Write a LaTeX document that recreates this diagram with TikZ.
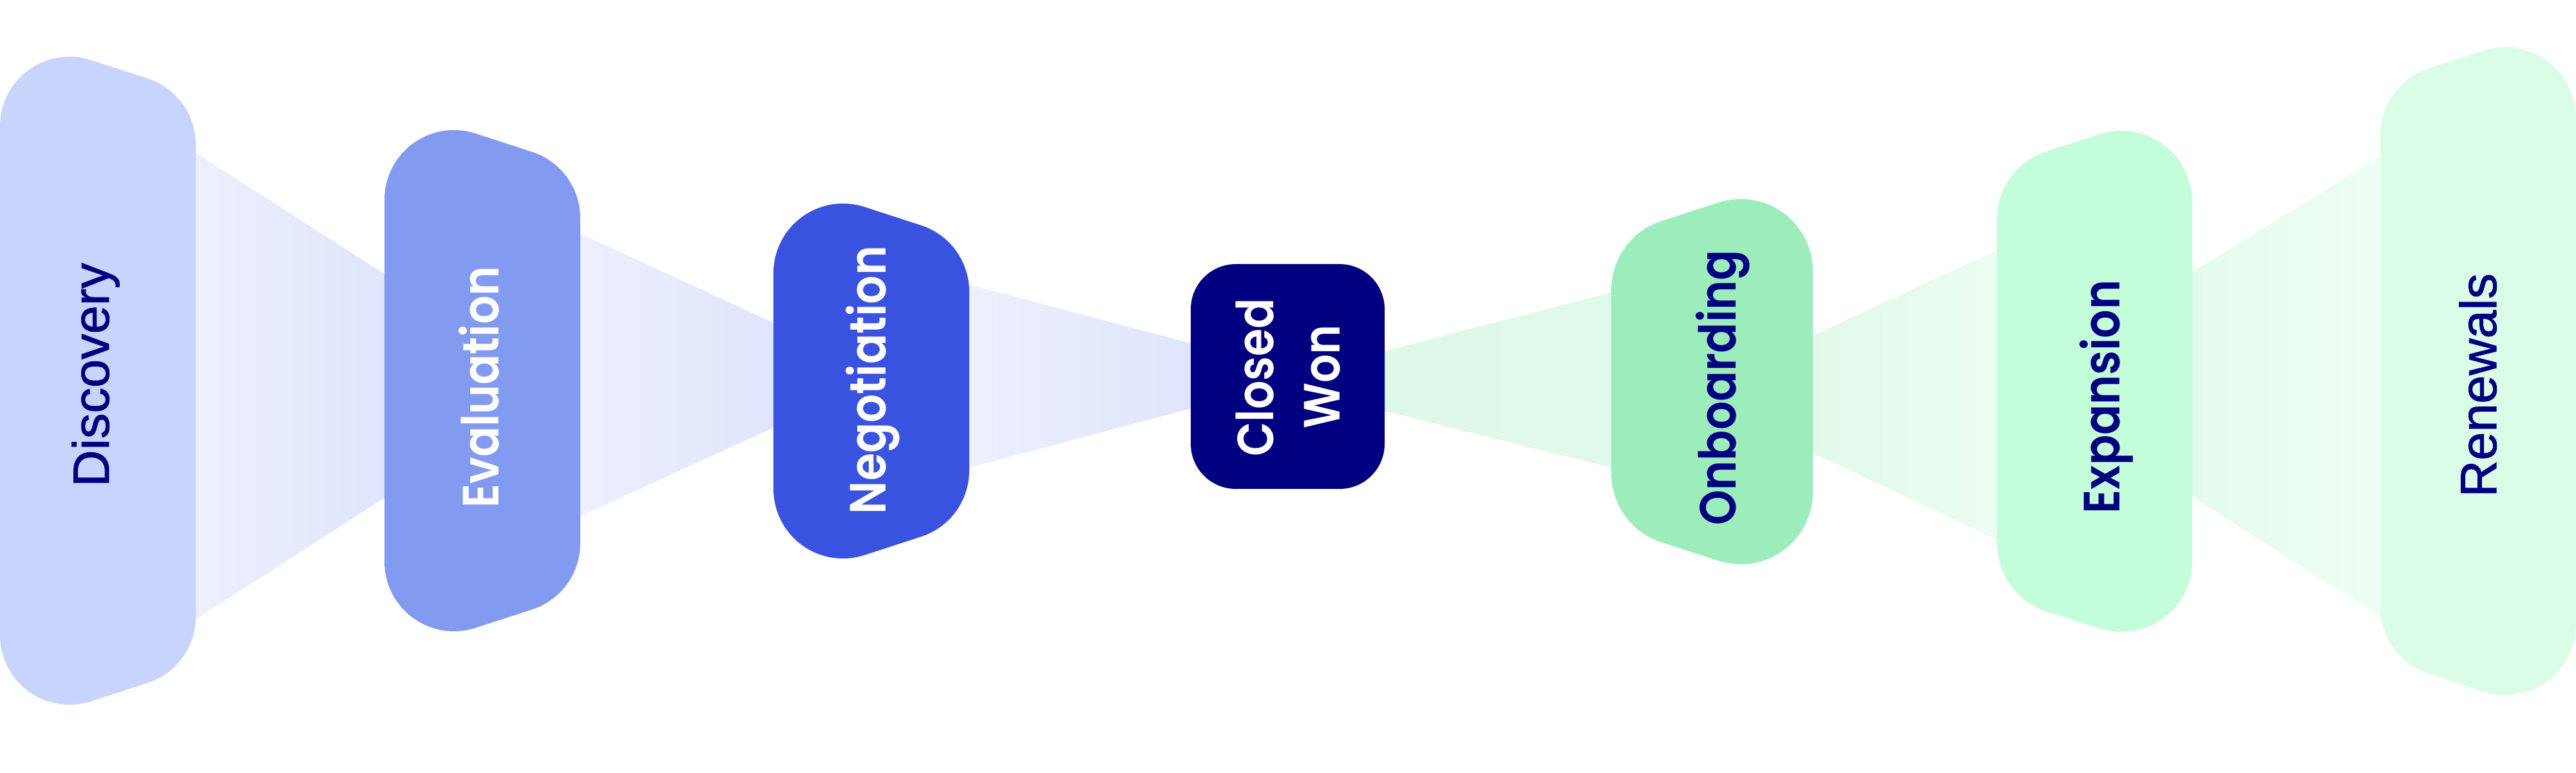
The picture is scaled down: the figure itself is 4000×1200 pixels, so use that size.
\documentclass[tikz,border=0pt]{standalone}
\usepackage{fontspec}
\usetikzlibrary{calc}
\newfontfamily\popfont{Poppins}[UprightFont={* SemiBold}, FakeStretch=0.88]
\newfontfamily\arialfont{Liberation Sans}[FakeBold=1.2]
\newcommand{\lblsize}{\fontsize{22.5pt}{29.6pt}\selectfont}
\newcommand{\popsize}{\fontsize{22.5pt}{29.6pt}\selectfont}
\definecolor{navytxt}{HTML}{000080}
\definecolor{discfill}{HTML}{C9D4FD}
\definecolor{evalfill}{HTML}{829BF0}
\definecolor{negofill}{HTML}{3A52E0}
\definecolor{wonfill}{HTML}{000080}
\definecolor{onbfill}{HTML}{9CEDBB}
\definecolor{expfill}{HTML}{C3FDDA}
\definecolor{renfill}{HTML}{DBFDE8}
\definecolor{blueA}{HTML}{EDF0FE}
\definecolor{blueB}{HTML}{DFE5FB}
\definecolor{greenA}{HTML}{DEF8E9}
\definecolor{greenB}{HTML}{E1F9EB}
\definecolor{greenC}{HTML}{E1F9EA}
\definecolor{greenD}{HTML}{ECFDF3}
\definecolor{greenE}{HTML}{E3FBEC}
\definecolor{greenF}{HTML}{EEFEF4}
% tapered stage, taller on the left: xL, xR, r, top peak, bottom peak, fill
\newcommand{\stageLeft}[6]{%
  \pgfmathsetmacro{\sdrop}{tan(18)*(#2-#1-2*#3)}%
  \pgfmathsetmacro{\yTL}{#4-#3}%
  \pgfmathsetmacro{\yTR}{\yTL-\sdrop}%
  \pgfmathsetmacro{\yBL}{#5+#3}%
  \pgfmathsetmacro{\yBR}{\yBL+\sdrop}%
  \fill[#6] (#1,\yTL) arc[start angle=180,end angle=72,radius=#3]
    -- ($(#2-#3,\yTR)+(72:#3)$) arc[start angle=72,end angle=0,radius=#3]
    -- (#2,\yBR) arc[start angle=0,end angle=-72,radius=#3]
    -- ($(#1+#3,\yBL)+(-72:#3)$) arc[start angle=-72,end angle=-180,radius=#3]
    -- cycle;}
% tapered stage, taller on the right
\newcommand{\stageRight}[6]{%
  \pgfmathsetmacro{\sdrop}{tan(18)*(#2-#1-2*#3)}%
  \pgfmathsetmacro{\yTR}{#4-#3}%
  \pgfmathsetmacro{\yTL}{\yTR-\sdrop}%
  \pgfmathsetmacro{\yBR}{#5+#3}%
  \pgfmathsetmacro{\yBL}{\yBR+\sdrop}%
  \fill[#6] (#1,\yTL) arc[start angle=180,end angle=108,radius=#3]
    -- ($(#2-#3,\yTR)+(108:#3)$) arc[start angle=108,end angle=0,radius=#3]
    -- (#2,\yBR) arc[start angle=0,end angle=-108,radius=#3]
    -- ($(#1+#3,\yBL)+(-108:#3)$) arc[start angle=-108,end angle=-180,radius=#3]
    -- cycle;}
\tikzset{
  poplbl/.style={rotate=90, anchor=base, inner sep=0pt, font=\popfont\popsize},
  arlbl/.style={rotate=90, anchor=base, inner sep=0pt, font=\arialfont\lblsize},
}
\begin{document}
\begin{tikzpicture}[x=0.01cm,y=0.01cm]
\useasboundingbox (0,0) rectangle (4000,1200);
% connector end points
\coordinate (c1a) at (300,965); \coordinate (c1b) at (601,772);
\coordinate (c1c) at (601,430); \coordinate (c1d) at (300,236);
\coordinate (c2a) at (897,839); \coordinate (c2b) at (1205,697);
\coordinate (c2c) at (1205,538); \coordinate (c2d) at (897,397);
\coordinate (c3a) at (1501,759); \coordinate (c3b) at (1853,666);
\coordinate (c3c) at (1853,567); \coordinate (c3d) at (1501,473);
\coordinate (c4a) at (2146,654); \coordinate (c4b) at (2506,747);
\coordinate (c4c) at (2506,473); \coordinate (c4d) at (2146,563);
\coordinate (c5a) at (2811,677); \coordinate (c5b) at (3105,814);
\coordinate (c5c) at (3105,360); \coordinate (c5d) at (2811,499);
\coordinate (c6a) at (3400,775); \coordinate (c6b) at (3700,960);
\coordinate (c6c) at (3700,240); \coordinate (c6d) at (3400,432);
% connectors
\shade[left color=blueA, right color=blueB] (c1a) -- (c1b) -- (c1c) -- (c1d) -- cycle;
\shade[left color=blueA, right color=blueB] (c2a) -- (c2b) -- (c2c) -- (c2d) -- cycle;
\shade[left color=blueA, right color=blueB] (c3a) -- (c3b) -- (c3c) -- (c3d) -- cycle;
\shade[left color=greenA, right color=greenB] (c4a) -- (c4b) -- (c4c) -- (c4d) -- cycle;
\shade[left color=greenC, right color=greenD] (c5a) -- (c5b) -- (c5c) -- (c5d) -- cycle;
\shade[left color=greenE, right color=greenF] (c6a) -- (c6b) -- (c6c) -- (c6d) -- cycle;
% stages
\stageLeft{0}{304}{108}{1112}{106}{discfill}
\stageLeft{597}{901}{108}{998}{220}{evalfill}
\stageLeft{1201}{1505}{108}{884}{333}{negofill}
\fill[wonfill, rounded corners=19.9pt] (1849,441) rectangle (2150,790);
\stageRight{2502}{2815}{112}{891}{324}{onbfill}
\stageRight{3101}{3404}{110}{997}{219}{expfill}
\stageRight{3696}{4000}{110}{1127}{121}{renfill}
% labels
\node[arlbl, text=navytxt] (discovery) at (169,618) {Discovery};
\node[poplbl, text=white] (evaluation) at (774,599) {Evaluation};
\node[poplbl, text=white] (negotiation) at (1375,610) {Negotiation};
\node[poplbl, text=white] (closed) at (1977,614) {Closed};
\node[poplbl, text=white] (won) at (2080,615) {Won};
\node[poplbl, text=navytxt] (onboarding) at (2695,598) {Onboarding};
\node[poplbl, text=navytxt] (expansion) at (3291,584) {Expansion};
\node[arlbl, text=navytxt] (renewals) at (3876,602) {Renewals};
\end{tikzpicture}
\end{document}
